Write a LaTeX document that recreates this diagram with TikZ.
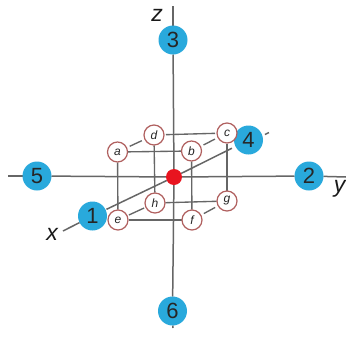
\documentclass[tikz,border=0pt]{standalone}
\usepackage{fontspec}
\setmainfont{Liberation Sans}
\definecolor{axisgray}{HTML}{666666}
\definecolor{ballblue}{HTML}{29A9DC}
\definecolor{ringred}{HTML}{B0605F}
\definecolor{coreRed}{HTML}{E8141F}
\pgfdeclarelayer{paper}
\pgfdeclarelayer{lines}
\pgfsetlayers{paper,lines,main}
\tikzset{
  ax/.style={draw=axisgray,line width=1.5pt},
  ed/.style={draw=axisgray,line width=1.35pt},
  gapped/.style={shorten >=3pt,shorten <=3pt},
  slight/.style={shorten >=1.5pt,shorten <=1.5pt},
  ball/.style={circle,fill=ballblue,minimum size=29pt,inner sep=0pt,outer sep=0pt,font=\fontsize{22}{22}\selectfont,text=black!85},
  corner/.style={circle,draw=ringred,fill=white,line width=1.2pt,minimum size=20pt,inner sep=0pt,outer sep=0.5pt,font=\itshape\fontsize{12}{12}\selectfont,text=black!85},
  axlabel/.style={inner sep=0pt,font=\itshape\fontsize{23}{23}\selectfont,text=black!90},
  core/.style={circle,fill=coreRed,minimum size=16pt,inner sep=0pt,outer sep=0pt}
}
\begin{document}
\begin{tikzpicture}[x=1pt,y=-1pt]
\useasboundingbox (0,0) rectangle (346,338);
\begin{pgfonlayer}{paper}
\fill[white] (0,0) rectangle (346,338);
\end{pgfonlayer}
\coordinate (ztop) at (173,6);
\coordinate (zbot) at (173,328);
\coordinate (yleft) at (8,176);
\coordinate (yright) at (346,177);
\coordinate (xlow) at (63,231);
\coordinate (xhigh) at (265,134.5);
\coordinate (xhighb) at (269,132.5);
\node[core] (o) at (174,177) {};
\node[ball] (n3) at (173,40) {3};
\node[ball] (n6) at (172.5,311) {6};
\node[ball] (n5) at (37,176) {5};
\node[ball] (n2) at (309,176) {2};
\node[ball] (n1) at (92.5,216) {1};
\node[ball] (n4) at (248.5,140) {4};
\node[corner] (a) at (117.5,152) {a};
\node[corner] (d) at (154,135) {d};
\node[corner] (c) at (227,133) {c};
\node[corner] (b) at (191.5,151) {b};
\node[corner] (e) at (118,220) {e};
\node[corner] (h) at (155,203) {h};
\node[corner] (g) at (227,201) {g};
\node[corner] (f) at (192,220) {f};
\node[axlabel] (lz) at (157,15) {z};
\node[axlabel] (ly) at (339.5,189) {y};
\node[axlabel] (lx) at (52,234) {x};
\begin{pgfonlayer}{lines}
\path[ax] (ztop) -- (n3);
\path[ax] (n3) -- (o);
\path[ax] (o) -- (n6);
\path[ax] (n6) -- (zbot);
\path[ax] (yleft) -- (n5);
\path[ax] (n5) -- (o);
\path[ax] (o) -- (n2);
\path[ax] (n2) -- (yright);
\path[ax] (xlow) -- (n1);
\path[ax,shorten <=1pt] (n1) -- (o);
\path[ax,shorten >=4pt] (o) -- (n4);
\path[ax] (xhigh) -- (xhighb);
\path[ed] (a) -- (b);
\path[ed,slight] (d) -- (c);
\path[ed] (e) -- (f);
\path[ed] (h) -- (g);
\path[ed] (a) -- (e);
\path[ed] (d) -- (h);
\path[ed] (b) -- (f);
\path[ed] (c) -- (g);
\path[ed,gapped] (a) -- (d);
\path[ed,gapped] (b) -- (c);
\path[ed,slight] (e) -- (h);
\path[ed,gapped] (f) -- (g);
\end{pgfonlayer}
\end{tikzpicture}
\end{document}
